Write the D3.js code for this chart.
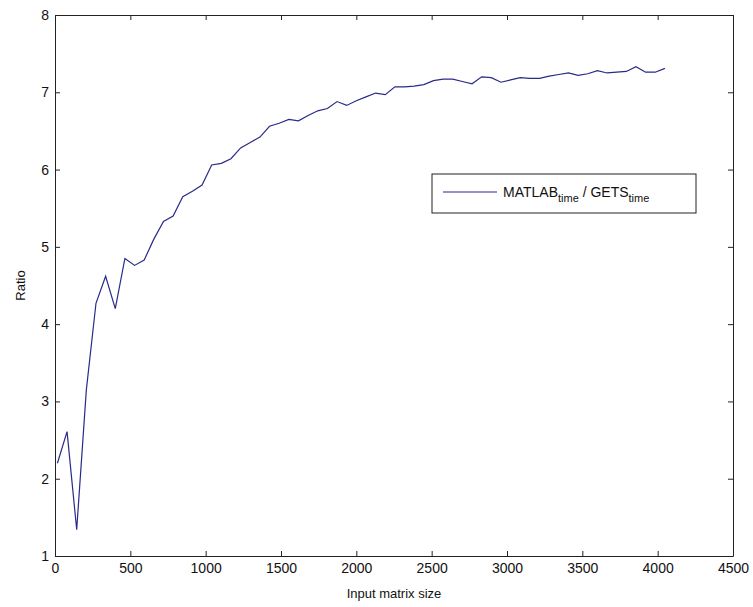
<!DOCTYPE html>
<html>
<head>
<meta charset="utf-8">
<script src="https://cdn.jsdelivr.net/npm/d3@7"></script>
<style>
  body { margin: 0; background: #fff; }
  text { font-family: "Liberation Sans", Arial, sans-serif; fill: #111; }
</style>
</head>
<body>
<svg width="753" height="607"></svg>
<script>
// matrix sizes 16, 80, 144, ... 4048
var sizes = d3.range(16, 4049, 64);
var ratio = [2.2, 2.61, 1.34, 3.15, 4.27, 4.62, 4.2, 4.85, 4.76, 4.83,
             5.1, 5.33, 5.4, 5.65, 5.72, 5.8, 6.06, 6.08, 6.14, 6.28,
             6.35, 6.42, 6.56, 6.6, 6.65, 6.63, 6.7, 6.76, 6.79, 6.88,
             6.83, 6.89, 6.94, 6.99, 6.97, 7.07, 7.07, 7.08, 7.1, 7.15,
             7.17, 7.17, 7.14, 7.11, 7.2, 7.19, 7.13, 7.16, 7.19, 7.18,
             7.18, 7.21, 7.23, 7.25, 7.22, 7.24, 7.28, 7.25, 7.26, 7.27,
             7.33, 7.26, 7.26, 7.31];
var xTicks = [0, 500, 1000, 1500, 2000, 2500, 3000, 3500, 4000, 4500];
var yTicks = [1, 2, 3, 4, 5, 6, 7, 8];

var svg = d3.select("svg"),
    margin = {top: 15, right: 20, bottom: 51, left: 55},
    width = 753 - margin.left - margin.right,
    height = 607 - margin.top - margin.bottom,
    g = svg.append("g").attr("transform", "translate(" + margin.left + "," + margin.top + ")");

var x = d3.scaleLinear().domain([0, 4500]).range([0, width]);
var y = d3.scaleLinear().domain([1, 8]).range([height, 0]);

// ticks pointing inward on all four sides
var tl = 5;
g.append("g")
    .attr("transform", "translate(0," + height + ")")
    .call(d3.axisBottom(x).tickValues(xTicks).tickFormat(d3.format("d"))
      .tickSizeInner(-tl).tickSizeOuter(0).tickPadding(7));
g.append("g")
    .call(d3.axisTop(x).tickValues(xTicks).tickSizeInner(-tl).tickSizeOuter(0).tickFormat(""));
g.append("g")
    .call(d3.axisLeft(y).tickValues(yTicks).tickFormat(d3.format("d"))
      .tickSizeInner(-tl).tickSizeOuter(0).tickPadding(6));
g.append("g")
    .attr("transform", "translate(" + width + ",0)")
    .call(d3.axisRight(y).tickValues(yTicks).tickSizeInner(-tl).tickSizeOuter(0).tickFormat(""));

g.selectAll(".domain").attr("stroke", "#222");
g.selectAll(".tick line").attr("stroke", "#222");
g.selectAll(".tick text").style("font-size", "14px").attr("fill", "#222");

// data line
var line = d3.line()
    .x(function(d, i) { return x(sizes[i]); })
    .y(function(d) { return y(d); });

g.append("path")
    .datum(ratio)
    .attr("fill", "none")
    .attr("stroke", "#2a2a8a")
    .attr("stroke-width", 1.2)
    .attr("d", line);

// axis titles
svg.append("text")
    .attr("x", margin.left + width / 2)
    .attr("y", 598)
    .attr("text-anchor", "middle")
    .style("font-size", "13px")
    .text("Input matrix size");

svg.append("text")
    .attr("transform", "translate(25," + (margin.top + height / 2) + ") rotate(-90)")
    .attr("text-anchor", "middle")
    .style("font-size", "13px")
    .text("Ratio");

// legend
var legend = svg.append("g").attr("transform", "translate(432,174)");
legend.append("rect")
    .attr("width", 264)
    .attr("height", 39)
    .attr("fill", "#fff")
    .attr("stroke", "#222");
legend.append("line")
    .attr("x1", 11).attr("x2", 65)
    .attr("y1", 18).attr("y2", 18)
    .attr("stroke", "#2a2a8a")
    .attr("stroke-width", 1.2);
var lt = legend.append("text")
    .attr("x", 71)
    .attr("y", 23)
    .style("font-size", "14px");
lt.append("tspan").text("MATLAB");
lt.append("tspan").attr("dy", 5).style("font-size", "11px").text("time");
lt.append("tspan").attr("dy", -5).text(" / GETS");
lt.append("tspan").attr("dy", 5).style("font-size", "11px").text("time");
</script>
</body>
</html>
